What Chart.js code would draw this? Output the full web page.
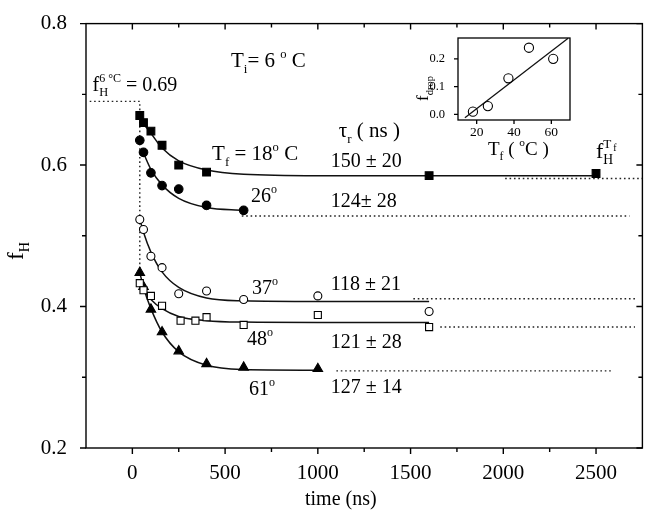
<!DOCTYPE html>
<html>
<head>
<meta charset="utf-8">
<script src="https://cdn.jsdelivr.net/npm/chart.js@4/dist/chart.umd.min.js"></script>
<style>
  body { margin: 0; background: #fff; }
  #wrap { position: relative; width: 649px; height: 525px; }
  #main { position: absolute; left: 0; top: 0; }
  #inset { position: absolute; left: 405px; top: 32px; }
</style>
</head>
<body>
<div id="wrap">
  <canvas id="main" width="649" height="525"></canvas>
  <canvas id="inset" width="175" height="135"></canvas>
</div>
<script>
// tick labels
const timeTicks = [0, 500, 1000, 1500, 2000, 2500];
const timeMinor = [250, 750, 1250, 1750, 2250];
const fhTicks = [0.2, 0.4, 0.6, 0.8];
const fhMinor = [0.3, 0.5, 0.7];

// measured f_H vs time (ns), one pair per final temperature
const t18 = [40, 60, 100, 160, 250, 400, 1600, 2500];
const f18 = [0.670, 0.660, 0.648, 0.628, 0.600, 0.590, 0.585, 0.588];
const t26 = [40, 60, 100, 160, 250, 400, 600];
const f26 = [0.635, 0.618, 0.589, 0.571, 0.566, 0.543, 0.536];
const t37 = [40, 60, 100, 160, 250, 400, 600, 1000, 1600];
const f37 = [0.523, 0.509, 0.471, 0.455, 0.418, 0.422, 0.410, 0.415, 0.393];
const t48 = [40, 60, 100, 160, 260, 340, 400, 600, 1000, 1600];
const f48 = [0.433, 0.423, 0.415, 0.401, 0.380, 0.380, 0.385, 0.374, 0.388, 0.371];
const t61 = [40, 60, 100, 160, 250, 400, 600, 1000];
const f61 = [0.448, 0.428, 0.396, 0.364, 0.337, 0.319, 0.314, 0.312];

// fitted curves
const fitT18 = [60, 100, 160, 250, 400, 600, 1000, 1600, 2500];
const fitF18 = [0.658, 0.645, 0.624, 0.606, 0.593, 0.587, 0.585, 0.585, 0.585];
const fitT26 = [60, 100, 160, 250, 400, 600];
const fitF26 = [0.617, 0.594, 0.572, 0.553, 0.540, 0.536];
const fitT37 = [40, 60, 100, 160, 250, 400, 600, 1000, 1600];
const fitF37 = [0.524, 0.505, 0.477, 0.449, 0.427, 0.412, 0.408, 0.407, 0.407];
const fitT48 = [40, 60, 100, 160, 250, 400, 600, 1000, 1600];
const fitF48 = [0.433, 0.424, 0.410, 0.397, 0.386, 0.380, 0.378, 0.3775, 0.3775];
const fitT61 = [40, 60, 100, 160, 250, 400, 600, 1000];
const fitF61 = [0.448, 0.427, 0.397, 0.364, 0.336, 0.317, 0.311, 0.310];

// dotted guide lines (initial level and f_H^Tf levels)
const g69T = [-230, 40, 40];
const g69F = [0.69, 0.69, 0.445];
const g18T = [2010, 2750], g18F = [0.581, 0.581];
const g26T = [590, 2680], g26F = [0.528, 0.528];
const g37T = [1515, 2720], g37F = [0.411, 0.411];
const g48T = [1660, 2710], g48F = [0.371, 0.371];
const g61T = [1100, 2590], g61F = [0.309, 0.309];

// inset: f_drop vs T_f
const tfC = [18, 26, 37, 48, 61];
const fDrop = [0.01, 0.03, 0.13, 0.24, 0.20];
const fitTf = [13.7, 69];
const fitDrop = [-0.012, 0.274];
const insetX = [20, 40, 60];
const insetY = [0, 0.1, 0.2];

const SERIF = '"Liberation Serif", "Times New Roman", serif';
const pts = (xs, ys) => xs.map((v, i) => ({ x: v, y: ys[i] }));

function marks(xs, ys, style, fill, r) {
  return { data: pts(xs, ys), pointStyle: style, pointRadius: r, pointBackgroundColor: fill,
           pointBorderColor: '#000', pointBorderWidth: 1.1, showLine: false };
}
function curve(xs, ys) {
  return { data: pts(xs, ys), showLine: true, pointRadius: 0, borderColor: '#111',
           borderWidth: 1.5, cubicInterpolationMode: 'monotone' };
}
function dotted(xs, ys) {
  return { data: pts(xs, ys), showLine: true, pointRadius: 0, borderColor: '#222',
           borderWidth: 1.4, borderDash: [1.6, 2.8], tension: 0 };
}

// draws text with sub/superscripts; '!' kinds stack over the previous piece
function drawRich(ctx, x, y, parts, size) {
  let cx = x, last = x;
  parts.forEach(([txt, kind]) => {
    let s = size, dy = 0, k = kind || '';
    const stack = k.endsWith('!');
    k = k.replace('!', '');
    if (k === 'sub') { s = size * 0.62; dy = size * 0.28; }
    if (k === 'sup') { s = size * 0.6; dy = -size * 0.45; }
    if (k === 'ss') { s = size * 0.45; dy = -size * 0.3; }
    ctx.font = s + 'px ' + SERIF;
    const px = stack ? last : cx;
    ctx.fillText(txt, px, y + dy);
    const w = ctx.measureText(txt).width;
    if (!stack) last = cx;
    cx = Math.max(cx, px + w);
  });
}

const frame = {
  id: 'frame',
  afterDatasetsDraw(chart, args, o) {
    const { ctx, chartArea: a, scales } = chart;
    const x = scales.x, y = scales.y;
    ctx.save();
    ctx.strokeStyle = '#000';
    ctx.lineWidth = o.lw;
    ctx.strokeRect(a.left, a.top, a.right - a.left, a.bottom - a.top);
    ctx.beginPath();
    const seg = (x0, y0, x1, y1) => { ctx.moveTo(x0, y0); ctx.lineTo(x1, y1); };
    const xt = (vals, len) => vals.forEach(v => {
      const p = x.getPixelForValue(v);
      seg(p, a.bottom, p, a.bottom + len);
      if (o.mirror) seg(p, a.top, p, a.top + len);
    });
    const yt = (vals, len) => vals.forEach(v => {
      const p = y.getPixelForValue(v);
      seg(a.left, p, a.left - len, p);
      if (o.mirror) seg(a.right, p, a.right - len, p);
    });
    xt(o.xMajor, o.major); xt(o.xMinor, o.minor);
    yt(o.yMajor, o.major); yt(o.yMinor, o.minor);
    ctx.stroke();
    ctx.restore();
  }
};

const notes = {
  id: 'notes',
  afterDatasetsDraw(chart, args, o) {
    const { ctx, scales } = chart;
    ctx.save();
    ctx.fillStyle = '#000';
    ctx.textBaseline = 'alphabetic';
    ctx.textAlign = 'left';
    (o.items || []).forEach(n => {
      const px = n.px !== undefined ? n.px : scales.x.getPixelForValue(n.t);
      const py = n.py !== undefined ? n.py : scales.y.getPixelForValue(n.f);
      if (n.rot) {
        ctx.save();
        ctx.translate(px, py);
        ctx.rotate(-Math.PI / 2);
        drawRich(ctx, 0, 0, n.parts, n.size);
        ctx.restore();
      } else {
        drawRich(ctx, px, py, n.parts, n.size);
      }
    });
    ctx.restore();
  }
};

const mainNotes = [
  { t: 532, f: 0.738, size: 21, parts: [['T'], ['i', 'sub'], ['= 6 '], ['o', 'sup'], [' C']] },
  { t: -215, f: 0.705, size: 20, parts: [['f'], ['H', 'sub'], ['6 °C', 'sup!'], [' = 0.69']] },
  { t: 430, f: 0.607, size: 21, parts: [['T'], ['f', 'sub'], [' = 18'], ['o', 'sup'], [' C']] },
  { t: 640, f: 0.548, size: 20, parts: [['26'], ['o', 'sup']] },
  { t: 1113, f: 0.640, size: 21, parts: [['τ'], ['r', 'sub'], [' ( ns )']] },
  { t: 1070, f: 0.597, size: 20, parts: [['150 ± 20']] },
  { t: 1070, f: 0.541, size: 20, parts: [['124± 28']] },
  { t: 2500, f: 0.610, size: 22, parts: [['f'], ['H', 'sub'], ['T', 'sup!'], ['f', 'ss']] },
  { t: 645, f: 0.418, size: 20, parts: [['37'], ['o', 'sup']] },
  { t: 618, f: 0.345, size: 20, parts: [['48'], ['o', 'sup']] },
  { t: 629, f: 0.275, size: 20, parts: [['61'], ['o', 'sup']] },
  { t: 1070, f: 0.423, size: 20, parts: [['118 ± 21']] },
  { t: 1070, f: 0.341, size: 20, parts: [['121 ± 28']] },
  { t: 1070, f: 0.278, size: 20, parts: [['127 ± 14']] },
  { px: 305, py: 505, size: 20, parts: [['time (ns)']] },
  { px: 23, py: 260, size: 23, rot: true, parts: [['f'], ['H', 'sub']] }
];

new Chart(document.getElementById('main'), {
  type: 'scatter',
  data: {
    datasets: [
      marks(t18, f18, 'rect', '#000', 5.5),
      marks(t26, f26, 'circle', '#000', 4.3),
      marks(t37, f37, 'circle', '#fff', 4),
      marks(t48, f48, 'rect', '#fff', 5),
      marks(t61, f61, 'triangle', '#000', 5.5),
      curve(fitT18, fitF18),
      curve(fitT26, fitF26),
      curve(fitT37, fitF37),
      curve(fitT48, fitF48),
      curve(fitT61, fitF61),
      dotted(g69T, g69F),
      dotted(g18T, g18F),
      dotted(g26T, g26F),
      dotted(g37T, g37F),
      dotted(g48T, g48F),
      dotted(g61T, g61F)
    ]
  },
  options: {
    responsive: false,
    animation: false,
    layout: { padding: { top: 23, right: 6, left: 0, bottom: 0 } },
    plugins: {
      legend: { display: false },
      tooltip: { enabled: false },
      frame: { lw: 1.4, mirror: true, major: 6, minor: 4,
               xMajor: timeTicks, xMinor: timeMinor, yMajor: fhTicks, yMinor: fhMinor },
      notes: { items: mainNotes }
    },
    scales: {
      x: {
        type: 'linear', min: -250, max: 2750,
        grid: { display: false }, border: { display: false },
        afterBuildTicks: s => { s.ticks = timeTicks.map(v => ({ value: v })); },
        afterFit: s => { s.height = 77; },
        ticks: { font: { family: SERIF, size: 21 }, color: '#000', padding: 5, maxRotation: 0,
                 callback: v => String(v) }
      },
      y: {
        type: 'linear', min: 0.2, max: 0.8,
        grid: { display: false }, border: { display: false },
        afterBuildTicks: s => { s.ticks = fhTicks.map(v => ({ value: v })); },
        afterFit: s => { s.width = 86; },
        ticks: { font: { family: SERIF, size: 21 }, color: '#000', padding: 11,
                 callback: v => v.toFixed(1) }
      }
    }
  },
  plugins: [frame, notes]
});

const insetNotes = [
  { px: 23, py: 69, size: 17, rot: true, parts: [['f'], ['drop', 'sub']] },
  { px: 83, py: 123, size: 19, parts: [['T'], ['f', 'sub'], [' ( '], ['o', 'sup'], ['C )']] }
];

new Chart(document.getElementById('inset'), {
  type: 'scatter',
  data: {
    datasets: [
      marks(tfC, fDrop, 'circle', 'rgba(255,255,255,0)', 4.6),
      { data: pts(fitTf, fitDrop), showLine: true, pointRadius: 0, borderColor: '#111',
        borderWidth: 1.3, tension: 0 }
    ]
  },
  options: {
    responsive: false,
    animation: false,
    layout: { padding: { top: 6, right: 10, left: 0, bottom: 0 } },
    plugins: {
      legend: { display: false },
      tooltip: { enabled: false },
      frame: { lw: 1.3, mirror: false, major: 4, minor: 0,
               xMajor: insetX, xMinor: [], yMajor: insetY, yMinor: [] },
      notes: { items: insetNotes }
    },
    scales: {
      x: {
        type: 'linear', min: 10, max: 70,
        grid: { display: false }, border: { display: false },
        afterBuildTicks: s => { s.ticks = insetX.map(v => ({ value: v })); },
        afterFit: s => { s.height = 47; s.paddingLeft = 0; s.paddingRight = 0; },
        ticks: { font: { family: SERIF, size: 13.5 }, color: '#000', padding: -4, maxRotation: 0,
                 callback: v => String(v) }
      },
      y: {
        type: 'linear', min: -0.02, max: 0.275,
        grid: { display: false }, border: { display: false },
        afterBuildTicks: s => { s.ticks = insetY.map(v => ({ value: v })); },
        afterFit: s => { s.width = 53; s.paddingTop = 0; s.paddingBottom = 0; },
        ticks: { font: { family: SERIF, size: 12.5 }, color: '#000', padding: 5,
                 callback: v => v.toFixed(1) }
      }
    }
  },
  plugins: [frame, notes]
});
</script>
</body>
</html>
